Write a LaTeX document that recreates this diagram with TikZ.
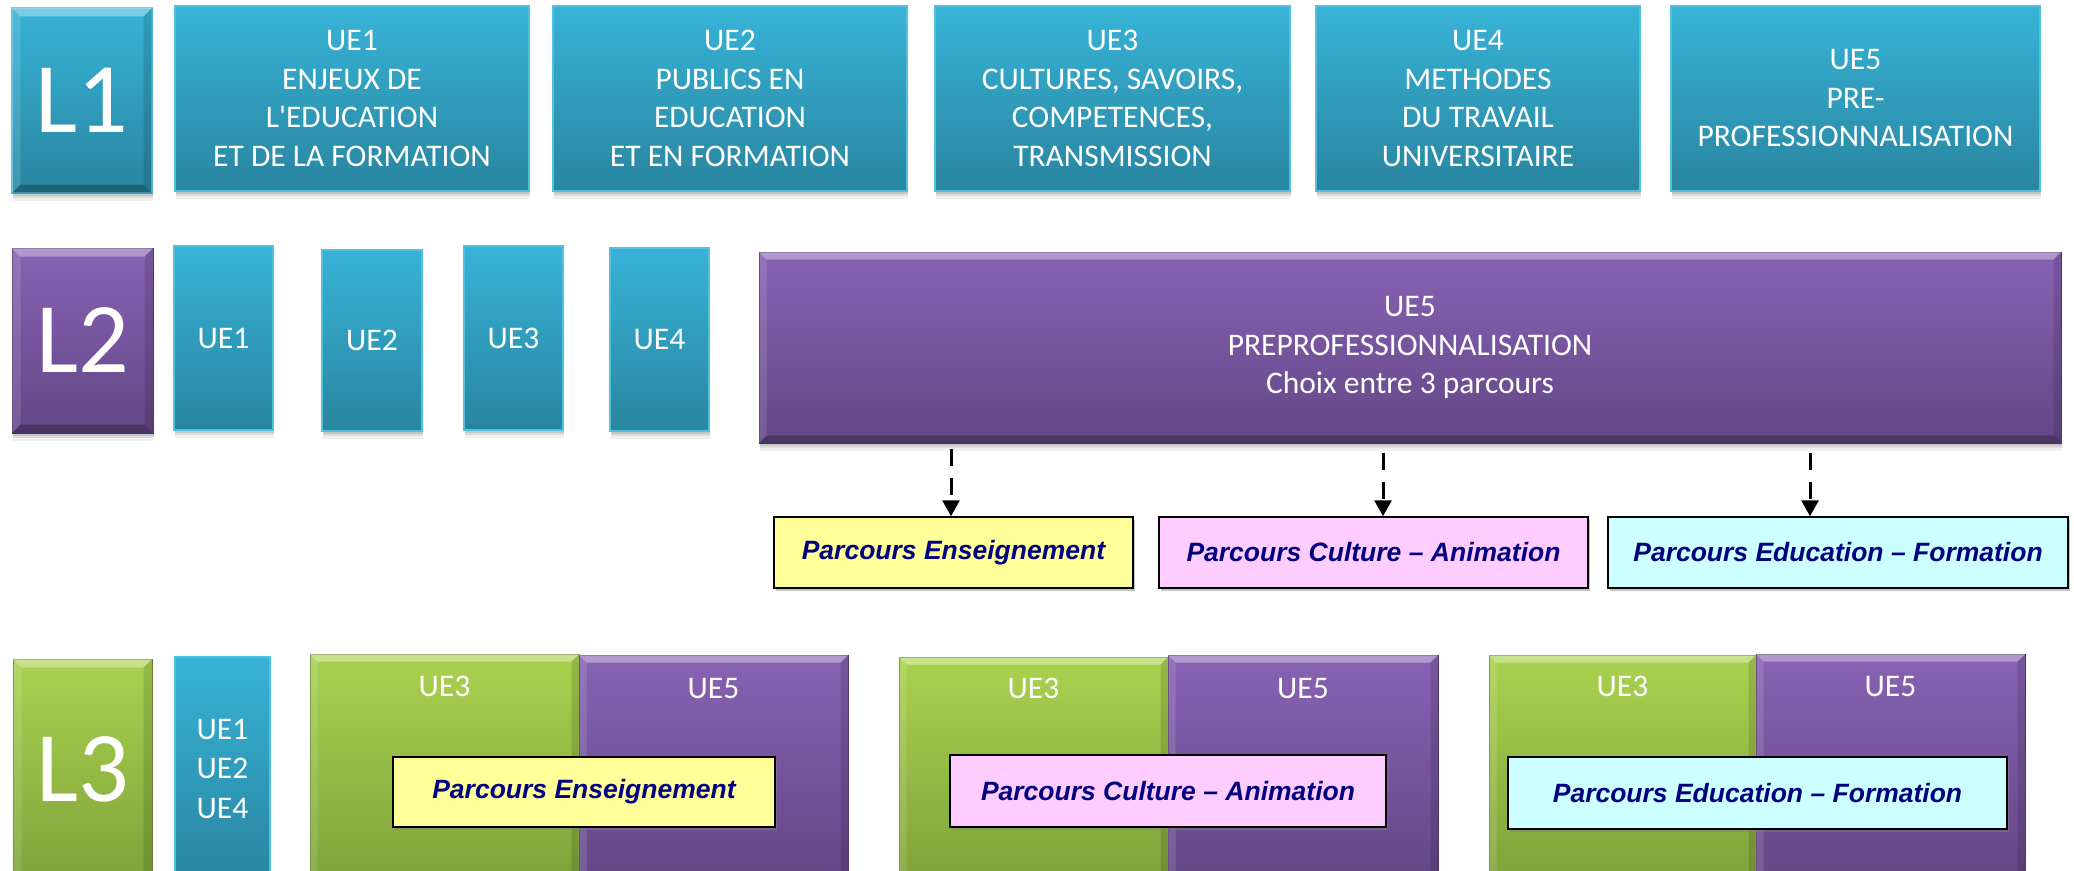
\documentclass[tikz,border=0pt]{standalone}
\usepackage{fontspec}
\setmainfont{Carlito}
\newfontfamily\arialf{Liberation Sans}
\usetikzlibrary{shadows,arrows.meta}
\definecolor{bluetop}{HTML}{37B3D7}
\definecolor{bluebot}{HTML}{2985A0}
\definecolor{bluebd}{HTML}{52C0E0}
\definecolor{purtop}{HTML}{8862B4}
\definecolor{purbot}{HTML}{634786}
\definecolor{grntop}{HTML}{AAD24F}
\definecolor{grnbot}{HTML}{7FA23A}
\definecolor{pyel}{HTML}{FFFF99}
\definecolor{ppink}{HTML}{FFCCFF}
\definecolor{pcyan}{HTML}{CCFFFF}
\definecolor{navytxt}{HTML}{000080}
\newcommand\bevelbox[2]{%
  \fill[white,opacity=0.35] (#1.north west) -- (#1.north east) -- ([xshift=-#2,yshift=-#2]#1.north east) -- ([xshift=#2,yshift=-#2]#1.north west) -- cycle;
  \fill[white,opacity=0.12] (#1.north west) -- ([xshift=#2,yshift=-#2]#1.north west) -- ([xshift=#2,yshift=#2]#1.south west) -- (#1.south west) -- cycle;
  \fill[black,opacity=0.12] (#1.north east) -- ([xshift=-#2,yshift=-#2]#1.north east) -- ([xshift=-#2,yshift=#2]#1.south east) -- (#1.south east) -- cycle;
  \fill[black,opacity=0.25] (#1.south west) -- (#1.south east) -- ([xshift=-#2,yshift=#2]#1.south east) -- ([xshift=#2,yshift=#2]#1.south west) -- cycle;
}
\tikzset{
  softshadow/.style={
    drop shadow={shadow xshift=1pt, shadow yshift=-3pt, opacity=0.10, fill=black},
    drop shadow={shadow xshift=1pt, shadow yshift=-5pt, opacity=0.08, fill=black},
    drop shadow={shadow xshift=1pt, shadow yshift=-8pt, opacity=0.06, fill=black}},
  box/.style={inner sep=0pt, text=white, align=center,
    font=\fontsize{31.5}{38.5}\selectfont, softshadow},
  bluebox/.style={box, top color=bluetop, bottom color=bluebot, draw=bluebd, line width=1.2pt},
  purbox/.style={box, top color=purtop, bottom color=purbot, draw=purbot!85!black, line width=1pt},
  grnbox/.style={box, top color=grntop, bottom color=grnbot, draw=grnbot!85!black, line width=1pt},
  bigfont/.style={font=\fontsize{100}{100}\selectfont},
  wlabel/.style={inner sep=0pt, text=white, font=\fontsize{31.5}{38.5}\selectfont},
  parc/.style={draw=black, line width=1.5pt, inner sep=0pt, text=navytxt,
    font=\arialf\bfseries\itshape\fontsize{26.5}{30}\selectfont,
    drop shadow={shadow xshift=2pt, shadow yshift=-3pt, opacity=0.45, fill=gray}},
  arr/.style={-{Triangle[length=16pt,width=17pt]}, line width=3pt, dash pattern=on 17pt off 12pt},
}
\begin{document}
\begin{tikzpicture}[x=1pt,y=-1pt]
\useasboundingbox (0,0) rectangle (2074,870);
\fill[white] (0,0) rectangle (2074,870);
\clip (0,0) rectangle (2074,870);

% ---------- Row L1 ----------
\node[bluebox, bigfont, minimum width=140pt, minimum height=185pt] (L1) at (82,100.5) {L1};
\bevelbox{L1}{9pt}
\node[bluebox, minimum width=354pt, minimum height=185pt, text depth=0pt] (a1) at (352,98.5)
  {UE1\\ENJEUX DE\\L\textquotesingle EDUCATION\\ET DE LA FORMATION};
\node[bluebox, minimum width=354pt, minimum height=185pt] (a2) at (730,98.5)
  {UE2\\PUBLICS EN\\EDUCATION\\ET EN FORMATION};
\node[bluebox, minimum width=355pt, minimum height=185pt] (a3) at (1112.5,98.5)
  {UE3\\CULTURES, SAVOIRS,\\COMPETENCES,\\TRANSMISSION};
\node[bluebox, minimum width=324pt, minimum height=185pt] (a4) at (1478,98.5)
  {UE4\\METHODES\\DU TRAVAIL\\UNIVERSITAIRE};
\node[bluebox, minimum width=369pt, minimum height=185pt] (a5) at (1855.5,98.5)
  {UE5\\PRE-\\PROFESSIONNALISATION};

% ---------- Row L2 ----------
\node[purbox, bigfont, minimum width=141pt, minimum height=185pt] (L2) at (82.5,340.5) {L2};
\bevelbox{L2}{9pt}
\node[bluebox, minimum width=99pt, minimum height=184pt] (b1) at (223.5,338) {UE1};
\node[bluebox, minimum width=100pt, minimum height=181pt] (b2) at (372,340.5) {UE2};
\node[bluebox, minimum width=99pt, minimum height=184pt] (b3) at (513.5,338) {UE3};
\node[bluebox, minimum width=99pt, minimum height=183pt] (b4) at (659.5,339.5) {UE4};
\node[purbox, minimum width=1302pt, minimum height=191pt] (b5) at (1410,347.5)
  {UE5\\PREPROFESSIONNALISATION\\Choix entre 3 parcours};
\bevelbox{b5}{8pt}

\node[parc, fill=pyel, minimum width=359pt, minimum height=71pt] (pe) at (953.5,552.5) {Parcours Enseignement};
\node[parc, fill=ppink, minimum width=429pt, minimum height=71pt] (pc) at (1373.5,552.5) {Parcours Culture – Animation};
\node[parc, fill=pcyan, minimum width=460pt, minimum height=71pt] (pf) at (1838,552.5) {Parcours Education – Formation};

\coordinate (s1) at (951,449);
\coordinate (s2) at (1383,453);
\coordinate (s3) at (1810,453);
\draw[arr] (s1) -- (s1 |- pe.north);
\draw[arr] (s2) -- (s2 |- pc.north);
\draw[arr] (s3) -- (s3 |- pf.north);

% ---------- Row L3 ----------
\node[grnbox, bigfont, minimum width=139pt, minimum height=221pt] (L3) at (82.5,769.5) {L3};
\bevelbox{L3}{9pt}
\node[bluebox, minimum width=95pt, minimum height=223pt, font=\fontsize{31.5}{39.5}\selectfont] (c0) at (222.5,768.5) {UE1\\UE2\\UE4};

\node[grnbox, minimum width=269pt, minimum height=226pt] (g1) at (444.5,767) {};
\bevelbox{g1}{8pt}
\node[purbox, minimum width=269pt, minimum height=225pt] (p1) at (713.5,767.5) {};
\bevelbox{p1}{8pt}
\node[wlabel] (g1t) at ([yshift=-33pt]g1.north) {UE3};
\node[wlabel] (p1t) at ([yshift=-34pt]p1.north) {UE5};

\node[grnbox, minimum width=269pt, minimum height=223pt] (g2) at (1033.5,768.5) {};
\bevelbox{g2}{8pt}
\node[purbox, minimum width=270pt, minimum height=225pt] (p2) at (1303,767.5) {};
\bevelbox{p2}{8pt}
\node[wlabel] (g2t) at ([yshift=-32pt]g2.north) {UE3};
\node[wlabel] (p2t) at ([yshift=-34pt]p2.north) {UE5};

\node[grnbox, minimum width=267pt, minimum height=225pt] (g3) at (1622.5,767.5) {};
\bevelbox{g3}{8pt}
\node[purbox, minimum width=269pt, minimum height=226pt] (p3) at (1890.5,767) {};
\bevelbox{p3}{8pt}
\node[wlabel] (g3t) at ([yshift=-32pt]g3.north) {UE3};
\node[wlabel] (p3t) at ([yshift=-33pt]p3.north) {UE5};

\node[parc, fill=pyel, minimum width=382pt, minimum height=70pt] (qe) at (584,792) {Parcours Enseignement};
\node[parc, fill=ppink, minimum width=436pt, minimum height=72pt] (qc) at (1168,791) {Parcours Culture – Animation};
\node[parc, fill=pcyan, minimum width=499pt, minimum height=72pt] (qf) at (1757.5,793) {Parcours Education – Formation};
\end{tikzpicture}
\end{document}
